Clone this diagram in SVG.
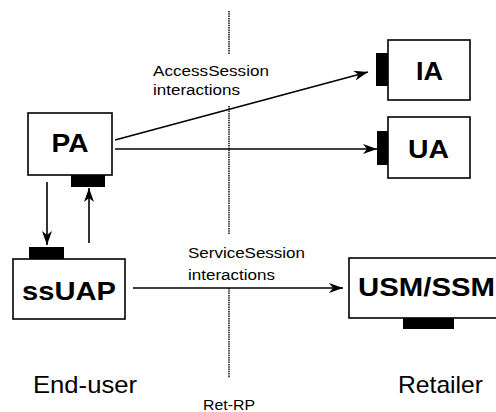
<svg xmlns="http://www.w3.org/2000/svg" width="496" height="412" viewBox="0 0 496 412">
<defs>
<style>
.box{fill:#fff;stroke:#000;stroke-width:1.6}
.port{fill:#000}
.lbl{font-family:"Liberation Sans",Arial,sans-serif;font-weight:bold;font-size:26px;fill:#000;text-anchor:middle}
.txt{font-family:"Liberation Sans",Arial,sans-serif;fill:#000}
.conn{stroke:#000;stroke-width:1.6;fill:none}
.dot{stroke:#000;stroke-width:1.4;stroke-dasharray:1.5 0.8;fill:none}
</style>
<marker id="arr" markerUnits="userSpaceOnUse" markerWidth="16" markerHeight="12" refX="14" refY="5" orient="auto">
<path d="M0,0 L14,5 L0,10 L4,5 z" fill="#000"/>
</marker>
</defs>
<rect width="496" height="412" fill="#fff"/>
<g id="boundary">
<line class="dot" x1="229" y1="11" x2="229" y2="54"/>
<line class="dot" x1="229" y1="106" x2="229" y2="234"/>
<line class="dot" x1="229" y1="288" x2="229" y2="378"/>
</g>
<g id="connectors">
<line class="conn" x1="115" y1="140" x2="368" y2="72" marker-end="url(#arr)"/>
<line class="conn" x1="115" y1="149" x2="377" y2="149" marker-end="url(#arr)"/>
<line class="conn" x1="133" y1="288" x2="343" y2="288" marker-end="url(#arr)"/>
<line class="conn" x1="47" y1="182" x2="47" y2="245" marker-end="url(#arr)"/>
<line class="conn" x1="89" y1="243" x2="89" y2="188" marker-end="url(#arr)"/>
</g>
<g id="PA">
<rect class="box" x="28" y="113" width="84" height="62"/>
<rect class="port" x="71" y="175" width="34" height="12"/>
<text class="lbl" x="70" y="152" textLength="37" lengthAdjust="spacingAndGlyphs">PA</text>
</g>
<g id="ssUAP">
<rect class="box" x="13" y="259" width="112" height="60"/>
<rect class="port" x="29" y="247" width="35" height="12"/>
<text class="lbl" x="69" y="300" textLength="94" lengthAdjust="spacingAndGlyphs">ssUAP</text>
</g>
<g id="IA">
<rect class="box" x="388" y="40" width="82" height="60"/>
<rect class="port" x="376" y="53" width="12" height="33"/>
<text class="lbl" x="429.5" y="80" textLength="27" lengthAdjust="spacingAndGlyphs">IA</text>
</g>
<g id="UA">
<rect class="box" x="388" y="117" width="82" height="61"/>
<rect class="port" x="377" y="131" width="11" height="34"/>
<text class="lbl" x="428.5" y="158" textLength="41" lengthAdjust="spacingAndGlyphs">UA</text>
</g>
<g id="USM_SSM">
<rect class="box" x="349" y="258" width="152" height="60"/>
<rect class="port" x="403" y="318" width="51" height="11"/>
<text class="lbl" x="426.5" y="296" font-size="28" textLength="137" lengthAdjust="spacingAndGlyphs">USM/SSM</text>
</g>
<g id="labels">
<text class="txt" x="153" y="76" font-size="15.5" textLength="116" lengthAdjust="spacingAndGlyphs">AccessSession</text>
<text class="txt" x="153" y="95" font-size="15.5" textLength="87" lengthAdjust="spacingAndGlyphs">interactions</text>
<text class="txt" x="188" y="258" font-size="15.5" textLength="117" lengthAdjust="spacingAndGlyphs">ServiceSession</text>
<text class="txt" x="188" y="280" font-size="15.5" textLength="87" lengthAdjust="spacingAndGlyphs">interactions</text>
<text class="txt" x="33" y="393" font-size="24" textLength="104" lengthAdjust="spacingAndGlyphs">End-user</text>
<text class="txt" x="398" y="393" font-size="24" textLength="85" lengthAdjust="spacingAndGlyphs">Retailer</text>
<text class="txt" x="203" y="410" font-size="14" textLength="52" lengthAdjust="spacingAndGlyphs">Ret-RP</text>
</g>
</svg>
